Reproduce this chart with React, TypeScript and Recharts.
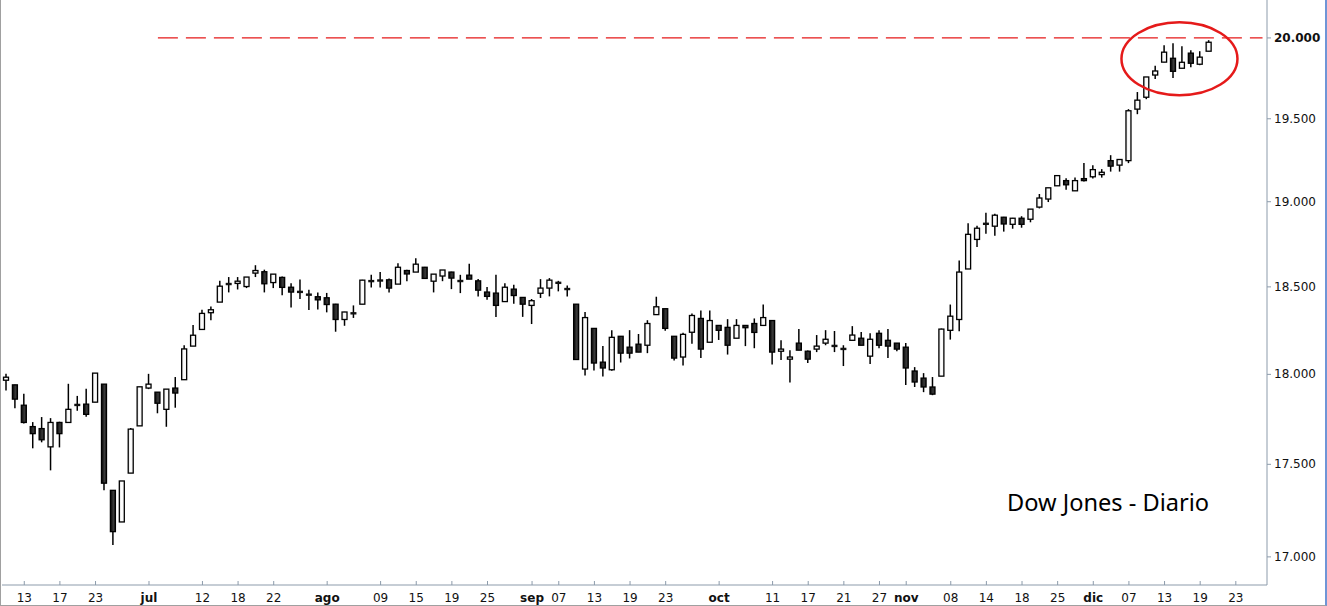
import React from 'react';
import { ComposedChart, Bar, XAxis, YAxis, ReferenceLine, ReferenceDot } from 'recharts';

// trading days (MM-DD, 2016)
const dates = [
  '06-09', '06-10', '06-13', '06-14', '06-15', '06-16', '06-17', '06-20', '06-21', '06-22', '06-23', '06-24', '06-27', '06-28', '06-29', '06-30',
  '07-01', '07-05', '07-06', '07-07', '07-08', '07-11', '07-12', '07-13', '07-14', '07-15', '07-18', '07-19', '07-20', '07-21', '07-22', '07-25', '07-26', '07-27', '07-28', '07-29',
  '08-01', '08-02', '08-03', '08-04', '08-05', '08-08', '08-09', '08-10', '08-11', '08-12', '08-15', '08-16', '08-17', '08-18', '08-19', '08-22', '08-23', '08-24', '08-25', '08-26', '08-29', '08-30', '08-31',
  '09-01', '09-02', '09-06', '09-07', '09-08', '09-09', '09-12', '09-13', '09-14', '09-15', '09-16', '09-19', '09-20', '09-21', '09-22', '09-23', '09-26', '09-27', '09-28', '09-29', '09-30',
  '10-03', '10-04', '10-05', '10-06', '10-07', '10-10', '10-11', '10-12', '10-13', '10-14', '10-17', '10-18', '10-19', '10-20', '10-21', '10-24', '10-25', '10-26', '10-27', '10-28', '10-31',
  '11-01', '11-02', '11-03', '11-04', '11-07', '11-08', '11-09', '11-10', '11-11', '11-14', '11-15', '11-16', '11-17', '11-18', '11-21', '11-22', '11-23', '11-25', '11-28', '11-29', '11-30',
  '12-01', '12-02', '12-05', '12-06', '12-07', '12-08', '12-09', '12-12', '12-13', '12-14', '12-15', '12-16', '12-19', '12-20',
];
const futureDates = ['12-21', '12-22', '12-23', '12-27', '12-28', '12-29'];

const opens = [
  17967, 17941, 17827, 17708, 17697, 17596, 17731, 17731, 17827, 17833,
  17844, 17945, 17358, 17187, 17452, 17712, 17923, 17900, 17804, 17923,
  17970, 18160, 18255, 18351, 18412, 18518, 18520, 18502, 18580, 18588,
  18525, 18555, 18498, 18472, 18460, 18443, 18437, 18400, 18312, 18350,
  18400, 18539, 18535, 18541, 18516, 18595, 18586, 18614, 18533, 18563,
  18586, 18535, 18568, 18535, 18470, 18464, 18415, 18487, 18439, 18393,
  18463, 18493, 18528, 18490, 18400, 18030, 18261, 18069, 18026, 18216,
  18154, 18171, 18165, 18340, 18374, 18216, 18098, 18239, 18318, 18182,
  18278, 18267, 18205, 18278, 18289, 18278, 18306, 18131, 18086, 18177,
  18131, 18143, 18177, 18160, 18148, 18193, 18205, 18103, 18233, 18193,
  18177, 18154, 18019, 17979, 17929, 17990, 18250, 18312, 18604, 18777,
  18866, 18855, 18908, 18866, 18902, 18896, 18968, 19016, 19095, 19126,
  19065, 19138, 19149, 19162, 19246, 19219, 19246, 19559, 19632, 19769,
  19849, 19873, 19811, 19905, 19836, 19917,
];
const highs = [
  18003, 17941, 17891, 17733, 17761, 17755, 17735, 17947, 17879, 17919,
  18007, 17945, 17358, 17409, 17700, 17930, 18003, 17900, 17917, 17985,
  18165, 18280, 18368, 18387, 18536, 18557, 18557, 18557, 18626, 18600,
  18574, 18560, 18521, 18543, 18483, 18468, 18465, 18402, 18356, 18393,
  18541, 18570, 18586, 18548, 18637, 18600, 18667, 18616, 18574, 18598,
  18588, 18570, 18634, 18545, 18500, 18570, 18521, 18512, 18439, 18430,
  18545, 18551, 18535, 18508, 18400, 18355, 18261, 18161, 18251, 18216,
  18251, 18229, 18308, 18443, 18374, 18216, 18236, 18346, 18364, 18364,
  18278, 18314, 18314, 18280, 18318, 18398, 18306, 18193, 18137, 18257,
  18135, 18223, 18251, 18246, 18165, 18274, 18240, 18233, 18251, 18257,
  18177, 18177, 18041, 18007, 17985, 18260, 18398, 18653, 18873, 18857,
  18934, 18928, 18910, 18904, 18914, 18956, 19046, 19083, 19156, 19140,
  19144, 19232, 19219, 19195, 19279, 19253, 19559, 19664, 19757, 19826,
  19954, 19967, 19948, 19923, 19917, 19986,
];
const lows = [
  17909, 17810, 17725, 17588, 17621, 17467, 17593, 17731, 17796, 17763,
  17844, 17358, 17063, 17187, 17452, 17712, 17917, 17782, 17707, 17813,
  17970, 18160, 18255, 18308, 18412, 18468, 18485, 18493, 18557, 18468,
  18493, 18451, 18381, 18430, 18366, 18370, 18353, 18242, 18276, 18321,
  18400, 18497, 18497, 18468, 18516, 18533, 18586, 18549, 18468, 18533,
  18487, 18464, 18545, 18445, 18425, 18327, 18415, 18402, 18327, 18286,
  18436, 18445, 18474, 18445, 18084, 17994, 18022, 17988, 18020, 18067,
  18090, 18126, 18120, 18340, 18248, 18078, 18050, 18173, 18092, 18182,
  18195, 18112, 18205, 18160, 18148, 18278, 18056, 18081, 17954, 18137,
  18064, 18126, 18165, 18126, 18047, 18193, 18165, 18058, 18148, 18092,
  18131, 17940, 17929, 17900, 17883, 17990, 18197, 18245, 18604, 18733,
  18811, 18799, 18823, 18840, 18846, 18878, 18960, 18998, 19095, 19071,
  19065, 19120, 19138, 19144, 19180, 19180, 19231, 19528, 19620, 19744,
  19849, 19750, 19811, 19817, 19830, 19917,
];
const closes = [
  17984, 17861, 17731, 17669, 17635, 17731, 17669, 17804, 17830, 17776,
  18007, 17397, 17135, 17409, 17694, 17930, 17945, 17838, 17917, 17895,
  18144, 18222, 18347, 18368, 18504, 18515, 18533, 18557, 18595, 18518,
  18574, 18497, 18470, 18470, 18450, 18425, 18398, 18312, 18355, 18345,
  18539, 18528, 18539, 18493, 18614, 18575, 18632, 18549, 18574, 18598,
  18551, 18533, 18545, 18481, 18445, 18393, 18498, 18450, 18400, 18420,
  18493, 18539, 18519, 18485, 18084, 18323, 18064, 18036, 18210, 18120,
  18120, 18126, 18289, 18385, 18261, 18092, 18227, 18335, 18143, 18306,
  18250, 18165, 18278, 18265, 18238, 18323, 18126, 18143, 18098, 18137,
  18086, 18160, 18199, 18162, 18140, 18223, 18165, 18199, 18165, 18160,
  18143, 18036, 17957, 17929, 17889, 18257, 18331, 18586, 18807, 18843,
  18872, 18920, 18868, 18902, 18866, 18956, 19022, 19083, 19156, 19101,
  19126, 19126, 19192, 19176, 19213, 19253, 19549, 19614, 19757, 19794,
  19911, 19792, 19848, 19842, 19880, 19973,
];

const tickDates = [
  '06-13', '06-17', '06-23', '07-01', '07-12', '07-18', '07-22', '08-01', '08-09', '08-15', '08-19', '08-25',
  '09-01', '09-07', '09-13', '09-19', '09-23', '10-03', '10-11', '10-17', '10-21', '10-27', '11-01', '11-08',
  '11-14', '11-18', '11-25', '12-01', '12-07', '12-13', '12-19', '12-23',
];
const tickLabels = [
  '13', '17', '23', 'jul', '12', '18', '22', 'ago', '09', '15', '19', '25',
  'sep', '07', '13', '19', '23', 'oct', '11', '17', '21', '27', 'nov', '08',
  '14', '18', '25', 'dic', '07', '13', '19', '23',
];
const priceTicks = [17000, 17500, 18000, 18500, 19000, 19500, 20000];
const resistance = 20000;
const title = 'Dow Jones - Diario';

const rows = dates
  .map((d, i) => ({ d, o: opens[i], h: highs[i], l: lows[i], c: closes[i] }))
  .concat(futureDates.map((d) => ({ d } as any)));

const axisColor = '#8c9bab';
const axisFont = 'DejaVu Sans, Verdana, sans-serif';

function Candle(props: any) {
  const { x, y, width, height, payload } = props;
  if (!payload || payload.o == null || !isFinite(y) || !isFinite(height)) return null;
  const top = height < 0 ? y + height : y;
  const h = Math.abs(height);
  const lnH = Math.log(payload.h);
  const lnL = Math.log(payload.l);
  const py = (p: number) => top + (h * (lnH - Math.log(p))) / (lnH - lnL || 1);
  const cx = x + width / 2;
  const up = payload.c >= payload.o;
  const bTop = py(Math.max(payload.o, payload.c));
  const bBot = py(Math.min(payload.o, payload.c));
  return (
    <g>
      <line x1={cx} x2={cx} y1={top} y2={top + h} stroke="#000" strokeWidth={1.5} />
      {bBot - bTop < 2 ? (
        <rect x={x} y={(bTop + bBot) / 2 - 1.2} width={width} height={2.4} fill="#111" />
      ) : (
        <rect
          x={x + 0.5}
          y={bTop}
          width={width - 1}
          height={bBot - bTop}
          fill={up ? 'url(#upFill)' : 'url(#downFill)'}
          stroke="#000"
          strokeWidth={1.3}
        />
      )}
    </g>
  );
}

function DateTick(props: any) {
  const { x, y, payload } = props;
  const label = tickLabels[tickDates.indexOf(payload.value)];
  const bold = /[a-z]/.test(label);
  return (
    <g>
      <line x1={x} x2={x} y1={y - 4} y2={y} stroke={axisColor} />
      <text x={x} y={y + 17} textAnchor="middle" fontSize={12} fontFamily={axisFont} fontWeight={bold ? 700 : 400} fill="#111">
        {label}
      </text>
    </g>
  );
}

function PriceTick(props: any) {
  const { x, y, payload } = props;
  const v = payload.value as number;
  const label = String(v).replace(/\B(?=(\d{3})+(?!\d))/g, '.');
  return (
    <text x={x} y={y} dy={4} textAnchor="start" fontSize={12} fontFamily={axisFont} fontWeight={v === resistance ? 700 : 400} fill="#111">
      {label}
    </text>
  );
}

const Ellipse = (p: any) => (
  <ellipse cx={p.cx + 6} cy={p.cy} rx={58} ry={36.5} fill="none" stroke="#e51a1a" strokeWidth={2.5} />
);

export default function App() {
  return (
    <div
      style={{
        position: 'absolute',
        left: 0,
        top: 0,
        width: 1327,
        height: 606,
        boxSizing: 'border-box',
        background: '#fff',
        borderLeft: '1px solid #a0a0a0',
        borderRight: '2px solid #6f95d6',
        borderBottom: '1px solid #a0a0a0',
      }}
    >
      <ComposedChart width={1324} height={605} data={rows} margin={{ top: 0, right: 0, left: 1, bottom: 0 }}>
        <defs>
          <linearGradient id="upFill" x1="0" y1="0" x2="1" y2="0">
            <stop offset="0%" stopColor="#dcdcdc" />
            <stop offset="45%" stopColor="#ffffff" />
            <stop offset="100%" stopColor="#f2f2f2" />
          </linearGradient>
          <linearGradient id="downFill" x1="0" y1="0" x2="1" y2="0">
            <stop offset="0%" stopColor="#050505" />
            <stop offset="60%" stopColor="#3a3a3a" />
            <stop offset="100%" stopColor="#1a1a1a" />
          </linearGradient>
        </defs>
        <XAxis
          dataKey="d"
          type="category"
          height={20}
          ticks={tickDates}
          interval={0}
          tickSize={0}
          tickMargin={0}
          tickLine={false}
          axisLine={{ stroke: axisColor }}
          tick={<DateTick />}
        />
        <YAxis
          orientation="right"
          type="number"
          scale="log"
          domain={[16851, 20239]}
          allowDataOverflow
          ticks={priceTicks}
          interval={0}
          width={58}
          tickSize={4}
          tickMargin={3}
          axisLine={{ stroke: axisColor }}
          tickLine={{ stroke: axisColor }}
          tick={<PriceTick />}
        />
        <ReferenceLine
          segment={[{ x: '07-05', y: resistance }, { x: '12-29', y: resistance }]}
          stroke="#e51a1a"
          strokeWidth={1.2}
          strokeDasharray="20 8"
          ifOverflow="visible"
        />
        <Bar
          dataKey={(r: any) => (r.o == null ? null : [r.l, r.h])}
          barSize={6}
          shape={<Candle />}
          isAnimationActive={false}
        />
        <ReferenceDot x="12-14" y={19870} r={0} ifOverflow="visible" shape={<Ellipse />} />
      </ComposedChart>
      <div
        style={{
          position: 'absolute',
          left: 1006,
          top: 490,
          fontFamily: 'Noto Sans, Open Sans, sans-serif',
          fontSize: 23.6,
          lineHeight: '24px',
          color: '#000',
          whiteSpace: 'nowrap',
        }}
      >
        {title}
      </div>
    </div>
  );
}
